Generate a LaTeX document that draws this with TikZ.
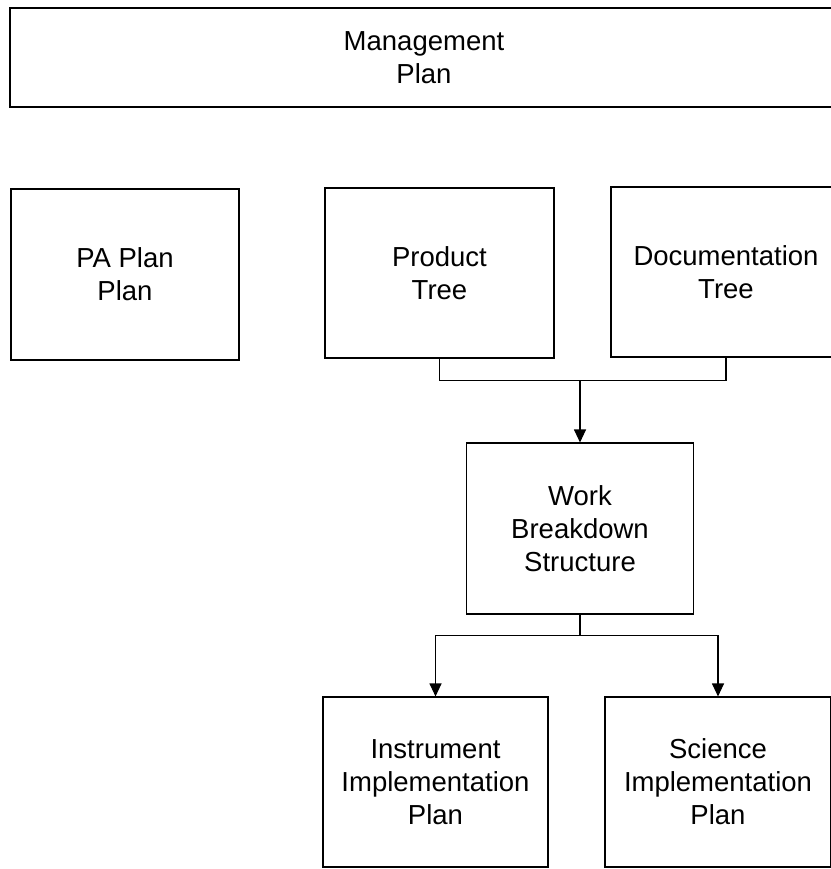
\documentclass[tikz,border=0pt]{standalone}
\usepackage{fontspec}
\setmainfont{Liberation Sans}
\usetikzlibrary{calc,arrows.meta}

\begin{document}
\begin{tikzpicture}[x=1pt,y=-1pt,line width=1.1pt,
  plan/.style={draw,align=center,inner sep=0pt,font=\fontsize{27.5}{33}\selectfont},
  arr/.style={-{Triangle[width=12pt,length=13pt]}}]
\useasboundingbox (0,0) rectangle (830,869);

\node[plan,minimum width=828,minimum height=99] (mgmt) at (424,57.5) {Management\\Plan};

\node[plan,minimum width=228,minimum height=171] (pa) at (125,274.5) {PA Plan\\Plan};
\node[plan,minimum width=229,minimum height=170] (prod) at (439.5,273) {Product\\Tree};
\node[plan,minimum width=230,minimum height=170] (doc) at (726,272) {Documentation\\Tree};

\node[plan,minimum width=227,minimum height=171] (wbs) at (580,528.5) {Work\\Breakdown\\Structure};

\node[plan,minimum width=225,minimum height=170] (inst) at (435.5,782) {Instrument\\Implementation\\Plan};
\node[plan,minimum width=226,minimum height=170] (sci) at (718,782) {Science\\Implementation\\Plan};

\path (prod.south) ++(0,22) coordinate (bar1);
\draw (prod.south) -- (bar1) -| (doc.south);
\draw[arr] (bar1 -| wbs.north) -- (wbs.north);

\path (wbs.south) ++(0,21) coordinate (bar2);
\draw (wbs.south) -- (bar2);
\draw[arr] (bar2) -| (inst.north);
\draw[arr] (bar2) -| (sci.north);

\end{tikzpicture}
\end{document}
